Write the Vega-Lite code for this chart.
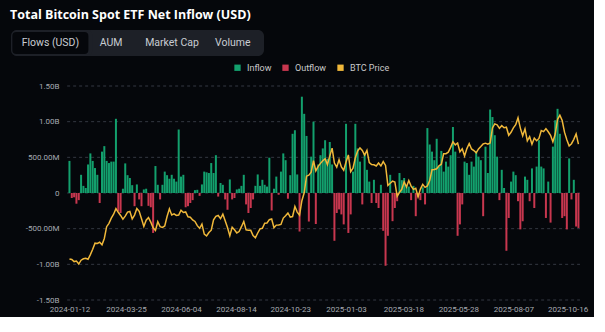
{
  "$schema": "https://vega.github.io/schema/vega-lite/v6.json",
  "background": "#05070b",
  "padding": {"left": 10, "top": 8, "right": 6, "bottom": 4},
  "title": {"text": "Total Bitcoin Spot ETF Net Inflow (USD)", "anchor": "start", "font": "Open Sans", "fontSize": 12.5, "fontWeight": "bold", "color": "#ffffff", "offset": 9, "dx": -1},
  "config": {"view": {"stroke": null}},
  "datasets": {
    "grid": [{"g": -1500}, {"g": -1000}, {"g": -500}, {"g": 0}, {"g": 500}, {"g": 1000}, {"g": 1500}],
    "main": [
        {"d":"2024-01-12","f":450,"p":42.8},{"d":"2024-01-15","f":-70,"p":42.5},{"d":"2024-01-18","f":-60,"p":41.3},{"d":"2024-01-21","f":-150,"p":41.6},{"d":"2024-01-24","f":-100,"p":39.9},{"d":"2024-01-27","f":255,"p":42.1},{"d":"2024-01-30","f":100,"p":42.9},
        {"d":"2024-02-02","f":70,"p":43.2},{"d":"2024-02-05","f":400,"p":42.6},{"d":"2024-02-08","f":555,"p":45.3},{"d":"2024-02-11","f":450,"p":48.3},{"d":"2024-02-14","f":350,"p":51.8},{"d":"2024-02-17","f":255,"p":51.6},{"d":"2024-02-20","f":-140,"p":52.3},{"d":"2024-02-23","f":580,"p":50.9},{"d":"2024-02-26","f":657,"p":54.5},{"d":"2024-02-29","f":450,"p":61.2},
        {"d":"2024-03-03","f":420,"p":63.1},{"d":"2024-03-06","f":440,"p":66.1},{"d":"2024-03-09","f":440,"p":68.3},{"d":"2024-03-12","f":1040,"p":71.5},{"d":"2024-03-15","f":-255,"p":69.4},{"d":"2024-03-18","f":-280,"p":67.6},{"d":"2024-03-21","f":60,"p":65.5},{"d":"2024-03-24","f":415,"p":67.2},{"d":"2024-03-27","f":250,"p":69.5},{"d":"2024-03-30","f":210,"p":69.9},
        {"d":"2024-04-02","f":110,"p":65.6},{"d":"2024-04-05","f":-185,"p":67.8},{"d":"2024-04-08","f":120,"p":71.6},{"d":"2024-04-11","f":-90,"p":70.0},{"d":"2024-04-14","f":-185,"p":65.7},{"d":"2024-04-17","f":50,"p":61.3},{"d":"2024-04-20","f":60,"p":64.9},{"d":"2024-04-23","f":-180,"p":66.4},{"d":"2024-04-26","f":-200,"p":63.8},{"d":"2024-04-29","f":-560,"p":60.6},
        {"d":"2024-05-02","f":378,"p":59.1},{"d":"2024-05-05","f":115,"p":64.0},{"d":"2024-05-08","f":-90,"p":61.2},{"d":"2024-05-11","f":115,"p":60.8},{"d":"2024-05-14","f":300,"p":61.6},{"d":"2024-05-17","f":250,"p":67.0},{"d":"2024-05-20","f":200,"p":71.4},{"d":"2024-05-23","f":255,"p":67.9},{"d":"2024-05-26","f":200,"p":68.5},{"d":"2024-05-29","f":160,"p":67.6},
        {"d":"2024-06-01","f":890,"p":67.8},{"d":"2024-06-04","f":230,"p":70.6},{"d":"2024-06-07","f":255,"p":69.3},{"d":"2024-06-10","f":-200,"p":69.6},{"d":"2024-06-13","f":-185,"p":66.8},{"d":"2024-06-16","f":-140,"p":66.6},{"d":"2024-06-19","f":-100,"p":65.0},{"d":"2024-06-22","f":40,"p":64.2},{"d":"2024-06-25","f":45,"p":61.8},{"d":"2024-06-28","f":-40,"p":60.3},
        {"d":"2024-07-01","f":120,"p":62.7},{"d":"2024-07-04","f":300,"p":57.0},{"d":"2024-07-07","f":290,"p":55.9},{"d":"2024-07-10","f":280,"p":57.9},{"d":"2024-07-13","f":420,"p":59.2},{"d":"2024-07-16","f":280,"p":65.1},{"d":"2024-07-19","f":530,"p":67.1},{"d":"2024-07-22","f":-50,"p":67.6},{"d":"2024-07-25","f":140,"p":65.8},{"d":"2024-07-28","f":115,"p":68.3},{"d":"2024-07-31","f":-90,"p":64.6},
        {"d":"2024-08-03","f":-235,"p":60.7},{"d":"2024-08-06","f":190,"p":56.0},{"d":"2024-08-09","f":-90,"p":60.9},{"d":"2024-08-12","f":-70,"p":59.4},{"d":"2024-08-15","f":50,"p":57.6},{"d":"2024-08-18","f":60,"p":58.4},{"d":"2024-08-21","f":100,"p":61.2},{"d":"2024-08-24","f":255,"p":64.2},{"d":"2024-08-27","f":-160,"p":59.4},{"d":"2024-08-30","f":-280,"p":59.1},
        {"d":"2024-09-02","f":-210,"p":59.1},{"d":"2024-09-05","f":-90,"p":56.2},{"d":"2024-09-08","f":100,"p":54.9},{"d":"2024-09-11","f":260,"p":57.6},{"d":"2024-09-14","f":100,"p":60.0},{"d":"2024-09-17","f":185,"p":60.3},{"d":"2024-09-20","f":115,"p":63.2},{"d":"2024-09-23","f":90,"p":63.3},{"d":"2024-09-26","f":495,"p":65.2},{"d":"2024-09-29","f":-245,"p":65.6},
        {"d":"2024-10-02","f":60,"p":60.6},{"d":"2024-10-05","f":230,"p":62.1},{"d":"2024-10-08","f":-25,"p":62.2},{"d":"2024-10-11","f":300,"p":62.5},{"d":"2024-10-14","f":555,"p":66.1},{"d":"2024-10-17","f":460,"p":67.4},{"d":"2024-10-20","f":-80,"p":69.0},{"d":"2024-10-23","f":250,"p":66.7},{"d":"2024-10-26","f":830,"p":67.0},{"d":"2024-10-29","f":880,"p":72.7},
        {"d":"2024-11-01","f":260,"p":69.5},{"d":"2024-11-04","f":-540,"p":67.8},{"d":"2024-11-07","f":1350,"p":76.0},{"d":"2024-11-10","f":1110,"p":80.5},{"d":"2024-11-13","f":800,"p":90.0},{"d":"2024-11-16","f":-400,"p":90.6},{"d":"2024-11-19","f":510,"p":92.3},{"d":"2024-11-22","f":1000,"p":98.9},{"d":"2024-11-25","f":-435,"p":93.0},{"d":"2024-11-28","f":400,"p":95.6},
        {"d":"2024-12-01","f":530,"p":97.3},{"d":"2024-12-04","f":625,"p":98.8},{"d":"2024-12-07","f":740,"p":99.9},{"d":"2024-12-10","f":480,"p":96.6},{"d":"2024-12-13","f":715,"p":101.4},{"d":"2024-12-16","f":400,"p":106.0},{"d":"2024-12-19","f":-670,"p":97.5},{"d":"2024-12-22","f":-280,"p":95.1},{"d":"2024-12-25","f":-230,"p":99.4},{"d":"2024-12-28","f":-300,"p":95.3},{"d":"2024-12-31","f":-440,"p":93.4},
        {"d":"2025-01-03","f":970,"p":98.1},{"d":"2025-01-06","f":-560,"p":102.1},{"d":"2025-01-09","f":-300,"p":92.5},{"d":"2025-01-12","f":300,"p":94.5},{"d":"2025-01-15","f":970,"p":100.5},{"d":"2025-01-18","f":625,"p":104.4},{"d":"2025-01-21","f":440,"p":106.1},{"d":"2025-01-24","f":-160,"p":104.7},{"d":"2025-01-27","f":550,"p":102.0},{"d":"2025-01-30","f":325,"p":104.7},
        {"d":"2025-02-02","f":160,"p":97.7},{"d":"2025-02-05","f":-140,"p":96.6},{"d":"2025-02-08","f":185,"p":96.5},{"d":"2025-02-11","f":-140,"p":95.8},{"d":"2025-02-14","f":-210,"p":97.5},{"d":"2025-02-17","f":115,"p":95.8},{"d":"2025-02-20","f":-530,"p":98.3},{"d":"2025-02-23","f":-1020,"p":96.1},{"d":"2025-02-26","f":-600,"p":84.7},
        {"d":"2025-03-01","f":255,"p":86.0},{"d":"2025-03-04","f":-395,"p":87.2},{"d":"2025-03-07","f":-210,"p":86.7},{"d":"2025-03-10","f":-115,"p":78.5},{"d":"2025-03-13","f":280,"p":80.7},{"d":"2025-03-16","f":180,"p":82.6},{"d":"2025-03-19","f":210,"p":86.8},{"d":"2025-03-22","f":115,"p":83.8},{"d":"2025-03-25","f":90,"p":87.5},{"d":"2025-03-28","f":-100,"p":84.3},{"d":"2025-03-31","f":100,"p":82.5},
        {"d":"2025-04-03","f":-325,"p":83.1},{"d":"2025-04-06","f":-60,"p":78.2},{"d":"2025-04-09","f":-100,"p":82.6},{"d":"2025-04-12","f":80,"p":85.3},{"d":"2025-04-15","f":-160,"p":83.6},{"d":"2025-04-18","f":910,"p":84.4},{"d":"2025-04-21","f":680,"p":87.5},{"d":"2025-04-24","f":580,"p":93.7},{"d":"2025-04-27","f":460,"p":93.8},{"d":"2025-04-30","f":760,"p":94.2},
        {"d":"2025-05-03","f":370,"p":95.9},{"d":"2025-05-06","f":590,"p":96.8},{"d":"2025-05-09","f":300,"p":102.8},{"d":"2025-05-12","f":440,"p":102.8},{"d":"2025-05-15","f":370,"p":103.7},{"d":"2025-05-18","f":530,"p":106.4},{"d":"2025-05-21","f":925,"p":109.6},{"d":"2025-05-24","f":580,"p":107.8},{"d":"2025-05-27","f":-600,"p":108.9},{"d":"2025-05-30","f":-440,"p":103.9},
        {"d":"2025-06-02","f":-160,"p":105.6},{"d":"2025-06-05","f":440,"p":101.5},{"d":"2025-06-08","f":420,"p":105.7},{"d":"2025-06-11","f":255,"p":108.6},{"d":"2025-06-14","f":440,"p":105.5},{"d":"2025-06-17","f":370,"p":104.6},{"d":"2025-06-20","f":590,"p":103.3},{"d":"2025-06-23","f":510,"p":105.5},{"d":"2025-06-26","f":460,"p":106.9},{"d":"2025-06-29","f":-325,"p":108.4},
        {"d":"2025-07-02","f":650,"p":108.8},{"d":"2025-07-05","f":280,"p":108.2},{"d":"2025-07-08","f":1170,"p":108.9},{"d":"2025-07-11","f":1065,"p":117.5},{"d":"2025-07-14","f":810,"p":119.8},{"d":"2025-07-17","f":510,"p":119.3},{"d":"2025-07-20","f":-100,"p":117.3},{"d":"2025-07-23","f":325,"p":118.8},{"d":"2025-07-26","f":70,"p":117.6},{"d":"2025-07-29","f":-810,"p":117.9},
        {"d":"2025-08-01","f":-350,"p":113.3},{"d":"2025-08-04","f":160,"p":115.0},{"d":"2025-08-07","f":300,"p":117.5},{"d":"2025-08-10","f":250,"p":119.3},{"d":"2025-08-13","f":-115,"p":123.3},{"d":"2025-08-16","f":-510,"p":117.4},{"d":"2025-08-19","f":-395,"p":113.0},{"d":"2025-08-22","f":230,"p":116.9},{"d":"2025-08-25","f":185,"p":110.1},{"d":"2025-08-28","f":-115,"p":112.5},{"d":"2025-08-31","f":345,"p":108.2},
        {"d":"2025-09-03","f":-210,"p":111.7},{"d":"2025-09-06","f":370,"p":110.2},{"d":"2025-09-09","f":740,"p":111.5},{"d":"2025-09-12","f":370,"p":116.0},{"d":"2025-09-15","f":345,"p":115.4},{"d":"2025-09-18","f":-350,"p":117.1},{"d":"2025-09-21","f":160,"p":115.3},{"d":"2025-09-24","f":-415,"p":113.3},{"d":"2025-09-27","f":650,"p":109.6},{"d":"2025-09-30","f":1020,"p":114.0},
        {"d":"2025-10-03","f":1180,"p":122.3},{"d":"2025-10-06","f":830,"p":124.7},{"d":"2025-10-09","f":-350,"p":121.7},{"d":"2025-10-12","f":-325,"p":115.1},{"d":"2025-10-15","f":-510,"p":110.8},{"d":"2025-10-18","f":485,"p":107.2},{"d":"2025-10-21","f":-90,"p":108.5},{"d":"2025-10-24","f":185,"p":111.0},{"d":"2025-10-27","f":-470,"p":114.1},{"d":"2025-10-30","f":-490,"p":108.3}
    ]
  },
  "columns": 1,
  "spacing": 26,
  "concat": [
    {
      "width": 253,
      "height": 26,
      "view": {"fill": "#1d2027", "stroke": null, "cornerRadius": 6},
      "data": {"values": [{"tab": "Flows (USD)"}, {"tab": "AUM"}, {"tab": "Market Cap"}, {"tab": "Volume"}]},
      "encoding": {
        "x": {"field": "tab", "type": "nominal", "sort": null, "axis": null,
              "scale": {"domain": ["Flows (USD)", "AUM", "Market Cap", "Volume"], "paddingInner": 0, "paddingOuter": 0.08, "align": 0.92}}
      },
      "layer": [
        {"transform": [{"filter": "datum.tab == 'Flows (USD)'"}],
         "mark": {"type": "bar", "width": 80, "cornerRadius": 6, "fill": "#05070b", "stroke": "#1d2027", "strokeWidth": 4, "clip": true}},
        {"mark": {"type": "text", "font": "Roboto", "fontSize": 10.5, "color": "#c8ccd2"},
         "encoding": {"text": {"field": "tab"}}}
      ]
    },
    {
      "width": 574,
      "height": 214,
      "layer": [
        {
          "data": {"name": "grid"},
          "mark": {"type": "rule", "strokeDash": [3, 3], "strokeWidth": 1, "stroke": "#343842"},
          "encoding": {
            "x": {"datum": 1704758400000, "type": "temporal"},
            "x2": {"datum": 1761955200000},
            "y": {"field": "g", "type": "quantitative", "scale": {"domain": [-1500, 1500]}, "axis": null}
          }
        },
        {
          "data": {"name": "main"},
          "transform": [{"calculate": "datum.f >= 0 ? 'Inflow' : 'Outflow'", "as": "t"}],
          "mark": {"type": "bar", "size": 2},
          "encoding": {
            "x": {"field": "d", "type": "temporal",
                  "scale": {"type": "utc", "domain": [{"year": 2023, "month": 11, "date": 4, "utc": true}, {"year": 2025, "month": 11, "date": 1, "utc": true}]},
                  "axis": {"title": null, "grid": false, "domain": false, "ticks": false,
                           "labelExpr": "utcFormat(datum.value, '%Y-%m-%d')",
                           "values": [
                             {"year": 2024, "month": 1, "date": 12, "utc": true}, {"year": 2024, "month": 3, "date": 25, "utc": true},
                             {"year": 2024, "month": 6, "date": 4, "utc": true}, {"year": 2024, "month": 8, "date": 14, "utc": true},
                             {"year": 2024, "month": 10, "date": 23, "utc": true}, {"year": 2025, "month": 1, "date": 3, "utc": true},
                             {"year": 2025, "month": 3, "date": 18, "utc": true}, {"year": 2025, "month": 5, "date": 28, "utc": true},
                             {"year": 2025, "month": 8, "date": 7, "utc": true}, {"year": 2025, "month": 10, "date": 16, "utc": true}],
                           "labelColor": "#a6aab1", "labelFont": "Roboto", "labelFontSize": 8, "labelPadding": 5, "labelOverlap": false, "labelFlush": false}},
            "y": {"field": "f", "type": "quantitative", "scale": {"domain": [-1500, 1500]},
                  "axis": {"title": null, "values": [-1500, -1000, -500, 0, 500, 1000, 1500],
                           "labelExpr": "datum.value == 0 ? '0' : (datum.value < 0 ? '-' : '') + (abs(datum.value) >= 1000 ? format(abs(datum.value) / 1000, '.2f') + 'B' : format(abs(datum.value), '.2f') + 'M')",
                           "domain": false, "ticks": false, "grid": false,
                           "labelColor": "#a6aab1", "labelFont": "Roboto", "labelFontSize": 8, "labelPadding": -48, "labelAlign": "right", "minExtent": 0, "maxExtent": 0}},
            "color": {"field": "t", "type": "nominal",
                      "scale": {"domain": ["Inflow", "Outflow", "BTC Price"], "range": ["#13a06d", "#c8374f", "#f0b83a"]},
                      "legend": {"orient": "none", "legendX": 222, "legendY": 33, "direction": "horizontal", "title": null,
                                 "symbolType": "square", "symbolSize": 40, "symbolStrokeWidth": 0,
                                 "labelColor": "#c9c9c9", "labelFont": "Roboto", "labelFontSize": 9, "columnPadding": 9, "labelOffset": 5,
                                 "encode": {"symbols": {"update": {"fill": {"scale": "color", "field": "value"}, "strokeWidth": {"value": 0}, "shape": {"value": "square"}}}}}}
          }
        },
        {
          "data": {"name": "main"},
          "mark": {"type": "line", "strokeWidth": 1.5},
          "encoding": {
            "x": {"field": "d", "type": "temporal"},
            "y": {"field": "p", "type": "quantitative", "scale": {"domain": [19.4, 141.4]}, "axis": null},
            "color": {"datum": "BTC Price", "type": "nominal"}
          }
        }
      ],
      "resolve": {"scale": {"y": "independent"}}
    }
  ]
}
